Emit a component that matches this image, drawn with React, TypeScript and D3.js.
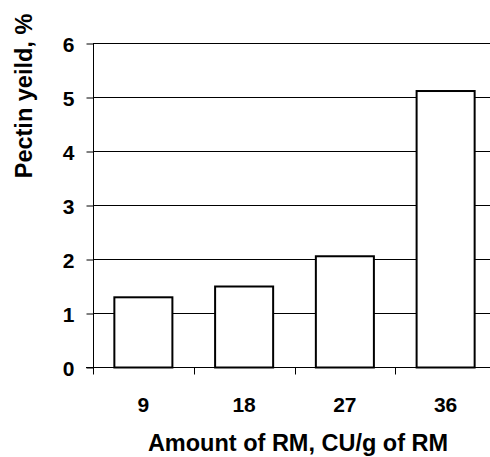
import React, { useEffect, useRef } from "react";
import * as d3 from "d3";

// chart values
const categories = ["9", "18", "27", "36"];
const pectinYield = [1.3, 1.5, 2.06, 5.12];
const yTicks = [0, 1, 2, 3, 4, 5, 6];

const xTitle = "Amount of RM, CU/g of RM";
const yTitle = "Pectin yeild, %";

export default function App() {
  const ref = useRef<SVGSVGElement | null>(null);

  useEffect(() => {
    const w = 490;
    const h = 457;
    const left = 93;
    const right = 496; // plot runs slightly past the picture edge
    const top = 43.5;
    const bottom = 367.5;
    const font = "'Liberation Sans', Arial, sans-serif";

    const svg = d3.select(ref.current).attr("width", w).attr("height", h);
    svg.selectAll("*").remove();

    const p = 0.424;
    const xScale = d3
      .scaleBand<string>()
      .domain(categories)
      .range([left, right])
      .paddingInner(p)
      .paddingOuter(p / 2);

    const yScale = d3.scaleLinear().domain([0, 6]).range([bottom, top]);

    // horizontal grid lines
    svg
      .append("g")
      .selectAll("line")
      .data(yTicks.filter((t) => t > 0))
      .join("line")
      .attr("x1", left)
      .attr("x2", right)
      .attr("y1", (d) => yScale(d))
      .attr("y2", (d) => yScale(d))
      .attr("stroke", "#000")
      .attr("stroke-width", 1);

    // y axis
    const yAxis = d3
      .axisLeft(yScale)
      .tickValues(yTicks)
      .tickSize(7)
      .tickPadding(12)
      .tickFormat(d3.format("d"));

    const yg = svg
      .append("g")
      .attr("transform", "translate(" + (left + 0.5) + ",0)")
      .call(yAxis);
    yg.select(".domain").attr("stroke", "#000").attr("d", `M0,${top}V${bottom}`);
    yg.selectAll(".tick line").attr("stroke", "#000");
    yg.selectAll(".tick text")
      .attr("font-family", font)
      .attr("font-weight", "bold")
      .attr("font-size", 21)
      .attr("fill", "#000")
      .attr("dy", "0.36em");

    // x axis line and boundary ticks
    const step = xScale.step();
    const bounds = categories
      .map((c) => (xScale(c) as number) - (step * p) / 2)
      .concat([right]);

    svg
      .append("line")
      .attr("x1", left - 7)
      .attr("x2", right)
      .attr("y1", bottom)
      .attr("y2", bottom)
      .attr("stroke", "#000");

    svg
      .append("g")
      .selectAll("line")
      .data(bounds)
      .join("line")
      .attr("x1", (d) => Math.round(d) + 0.5)
      .attr("x2", (d) => Math.round(d) + 0.5)
      .attr("y1", bottom)
      .attr("y2", bottom + 7)
      .attr("stroke", "#000");

    // category labels
    svg
      .append("g")
      .selectAll("text")
      .data(categories)
      .join("text")
      .attr("x", (d) => (xScale(d) as number) + xScale.bandwidth() / 2)
      .attr("y", 412)
      .attr("text-anchor", "middle")
      .attr("font-family", font)
      .attr("font-weight", "bold")
      .attr("font-size", 21)
      .text((d) => d);

    // bars
    svg
      .append("g")
      .selectAll("rect")
      .data(pectinYield)
      .join("rect")
      .attr("x", (d, i) => xScale(categories[i]) as number)
      .attr("y", (d) => yScale(d))
      .attr("width", xScale.bandwidth())
      .attr("height", (d) => bottom - yScale(d))
      .attr("fill", "#fff")
      .attr("stroke", "#000")
      .attr("stroke-width", 2);

    // axis titles
    svg
      .append("text")
      .attr("x", 298)
      .attr("y", 451)
      .attr("text-anchor", "middle")
      .attr("font-family", font)
      .attr("font-weight", "bold")
      .attr("font-size", 23.5)
      .text(xTitle);

    svg
      .append("text")
      .attr("transform", "translate(32,96) rotate(-90)")
      .attr("text-anchor", "middle")
      .attr("font-family", font)
      .attr("font-weight", "bold")
      .attr("font-size", 23.5)
      .text(yTitle);
  }, []);

  return (
    <svg
      ref={ref}
      style={{ position: "absolute", left: 0, top: 0, background: "#fff" }}
    />
  );
}
